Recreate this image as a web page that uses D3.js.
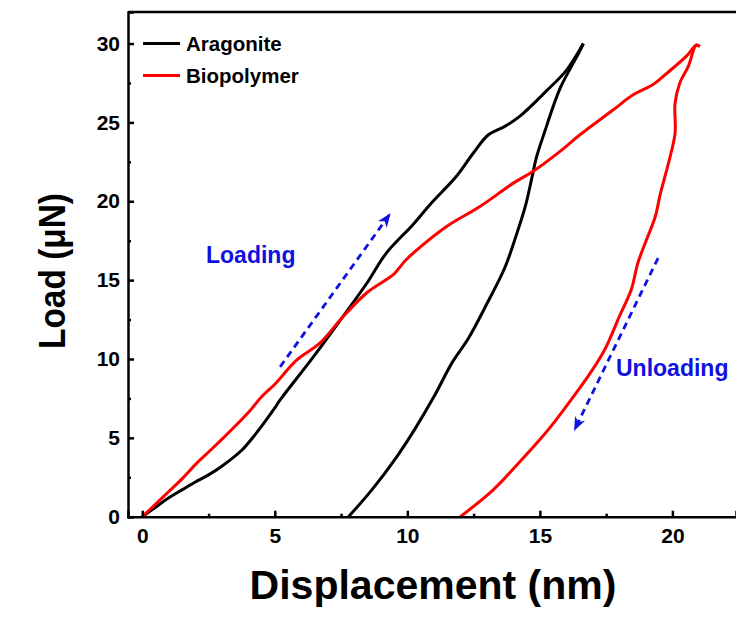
<!DOCTYPE html>
<html>
<head>
<meta charset="utf-8">
<script src="https://cdn.jsdelivr.net/npm/d3@7"></script>
<style>
	html, body { margin: 0; padding: 0; background: #fff; }
	svg text { font-family: 'Liberation Sans', Arial, sans-serif; font-weight: bold; }
</style>
</head>
<body>
<svg id="chart" width="736" height="617"></svg>
<script>
// data: [displacement nm, load uN]
const aragoniteLoading = [
	[0, 0], [0.5, 0.6], [1, 1.2], [1.5, 1.7], [2, 2.2], [2.5, 2.65], [3, 3.2],
	[3.76, 4.23], [4.3, 5.3], [5, 6.9], [5.2, 7.4], [6.46, 10.15], [7.53, 12.6],
	[8.47, 14.8], [9.2, 16.7], [10.2, 18.5], [10.86, 19.8], [11.86, 21.6],
	[12.49, 23.06], [13.05, 24.2], [13.68, 24.75], [14.25, 25.4], [15.25, 27.0],
	[16.0, 28.3], [16.64, 30.0]
];
const aragoniteUnloading = [
	[16.64, 30.0], [16.5, 29.5], [15.8, 27.3], [15.5, 26.0], [15.2, 24.5],
	[14.88, 22.84], [14.7, 21.5], [14.45, 19.67], [14.12, 17.9], [13.68, 15.8],
	[13.0, 13.5], [12.3, 11.3], [11.7, 9.8], [11.0, 7.6], [10.3, 5.6],
	[9.6, 3.8], [8.66, 1.7], [7.78, 0]
];
const biopolymerLoading = [
	[0, 0], [0.5, 0.8], [1, 1.6], [1.5, 2.4], [2, 3.3], [2.5, 4.1], [3, 4.9],
	[4, 6.6], [4.5, 7.6], [5, 8.4], [5.83, 9.94], [6.7, 11.0], [7.53, 12.6],
	[8.47, 14.2], [9.5, 15.4], [9.9, 16.2], [10.35, 16.9], [11.48, 18.4],
	[12.74, 19.67], [14.0, 21.15], [14.75, 21.9], [15.76, 23.16], [16.5, 24.2],
	[17.77, 25.8], [18.52, 26.75], [19.27, 27.4], [19.78, 28.1], [20.53, 29.2],
	[20.9, 29.9], [21.03, 29.8]
];
const biopolymerUnloading = [
	[21.03, 29.8], [20.9, 29.9], [20.6, 28.55], [20.28, 27.5], [20.1, 26.2],
	[20.1, 24.3], [19.85, 22.4], [19.55, 20.5], [19.35, 19.0], [19.02, 17.55],
	[18.7, 16.1], [18.45, 14.4], [18.0, 12.7], [17.45, 10.6], [16.9, 9.1],
	[16.26, 7.6], [15.5, 5.9], [15.1, 5.08], [14.2, 3.4], [13.24, 1.7], [12.0, 0]
];

const seriesNames = ['Aragonite', 'Biopolymer'];
const seriesColors = ['#000000', '#ff0000'];
const xTicks = [0, 5, 10, 15, 20];
const xMinorTicks = [2.5, 7.5, 12.5, 17.5];
const yTicks = [0, 5, 10, 15, 20, 25, 30];
const yMinorTicks = [2.5, 7.5, 12.5, 17.5, 22.5, 27.5];

// annotation arrows in data units: [from, to]
const loadingArrow = [[5.2, 9.5], [9.32, 19.14]];
const unloadingArrow = [[19.46, 16.4], [16.32, 5.55]];

const margin = { left: 128, top: 12, bottom: 100 };
const width = 736;
const height = 617;

const svg = d3.select('#chart');

const x = d3.scaleLinear()
	.domain([-0.54, 22.4])
	.range([margin.left, width]);
const y = d3.scaleLinear()
	.domain([0, 32])
	.range([height - margin.bottom - 0.3, margin.top]);

// arrow head
svg.append('defs')
	.append('marker')
	.attr('id', 'head')
	.attr('viewBox', '0 -6 14 12')
	.attr('refX', 12)
	.attr('refY', 0)
	.attr('markerWidth', 14)
	.attr('markerHeight', 12)
	.attr('markerUnits', 'userSpaceOnUse')
	.attr('orient', 'auto')
	.append('path')
	.attr('d', 'M0,-5.5L14,0L0,5.5L4,0Z')
	.attr('fill', '#1010e0');

// curves
const line = d3.line()
	.x(d => x(d[0]))
	.y(d => y(d[1]))
	.curve(d3.curveCatmullRom.alpha(0.5));

const curves = [
	{ data: aragoniteLoading, color: seriesColors[0] },
	{ data: aragoniteUnloading, color: seriesColors[0] },
	{ data: biopolymerLoading, color: seriesColors[1] },
	{ data: biopolymerUnloading, color: seriesColors[1] }
];

svg.append('g')
	.selectAll('path')
	.data(curves)
	.enter()
	.append('path')
	.attr('d', d => line(d.data))
	.attr('fill', 'none')
	.attr('stroke', d => d.color)
	.attr('stroke-width', 3)
	.attr('stroke-linejoin', 'round');

// axes, ticks point inward
svg.append('g')
	.attr('transform', `translate(0,${y(0)})`)
	.call(d3.axisBottom(x).tickValues(xTicks).tickSize(-6).tickPadding(11));
svg.append('g')
	.attr('transform', `translate(0,${y(0)})`)
	.call(d3.axisBottom(x).tickValues(xMinorTicks).tickSize(-3).tickFormat(''))
	.call(g => g.select('.domain').remove());

svg.append('g')
	.attr('transform', `translate(${margin.left},0)`)
	.call(d3.axisLeft(y).tickValues(yTicks).tickSize(-6).tickPadding(8));
svg.append('g')
	.attr('transform', `translate(${margin.left},0)`)
	.call(d3.axisLeft(y).tickValues(yMinorTicks).tickSize(-3).tickFormat(''))
	.call(g => g.select('.domain').remove());

svg.selectAll('.domain').attr('stroke-width', 2.5);
svg.selectAll('.tick line').attr('stroke-width', 2.5);
svg.selectAll('.tick text')
	.attr('font-size', 21)
	.attr('fill', '#000')
	.style('font-family', "'Liberation Sans', Arial, sans-serif")
	.style('font-weight', 'bold');

// top frame line
svg.append('line')
	.attr('x1', margin.left)
	.attr('x2', width)
	.attr('y1', margin.top)
	.attr('y2', margin.top)
	.attr('stroke', '#000')
	.attr('stroke-width', 2.5);

// axis titles
svg.append('text')
	.attr('x', 433)
	.attr('y', 599)
	.attr('text-anchor', 'middle')
	.attr('font-size', 41)
	.text('Displacement (nm)');

svg.append('text')
	.attr('transform', 'translate(65,271) rotate(-90)')
	.attr('text-anchor', 'middle')
	.attr('font-size', 37)
	.attr('textLength', 156)
	.attr('lengthAdjust', 'spacingAndGlyphs')
	.text('Load (\u03bcN)');

// legend
const legend = svg.append('g')
	.selectAll('g')
	.data(seriesNames)
	.enter()
	.append('g')
	.attr('transform', (d, i) => `translate(143,${43.5 + 32 * i})`);
legend.append('line')
	.attr('x1', 0)
	.attr('x2', 37)
	.attr('stroke', (d, i) => seriesColors[i])
	.attr('stroke-width', 3);
legend.append('text')
	.attr('x', 43)
	.attr('dy', '0.36em')
	.attr('font-size', 20.5)
	.text(d => d);

// annotations
const arrows = [loadingArrow, unloadingArrow];
svg.append('g')
	.selectAll('line')
	.data(arrows)
	.enter()
	.append('line')
	.attr('x1', d => x(d[0][0]))
	.attr('y1', d => y(d[0][1]))
	.attr('x2', d => x(d[1][0]))
	.attr('y2', d => y(d[1][1]))
	.attr('stroke', '#1010e0')
	.attr('stroke-width', 2.8)
	.attr('stroke-dasharray', '7,5')
	.attr('marker-end', 'url(#head)');

svg.append('text')
	.attr('x', 206)
	.attr('y', 263)
	.attr('font-size', 23)
	.attr('fill', '#1010e0')
	.text('Loading');

svg.append('text')
	.attr('x', 616)
	.attr('y', 376)
	.attr('font-size', 23)
	.attr('fill', '#1010e0')
	.text('Unloading');
</script>
</body>
</html>
